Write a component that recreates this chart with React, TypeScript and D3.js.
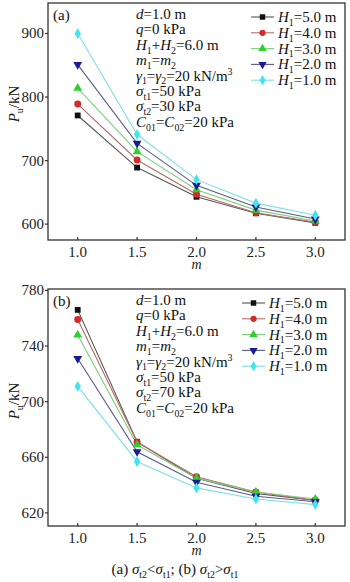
import React, { useEffect, useRef } from 'react';
import * as d3 from 'd3';

// x values (m)
const mValues = [1.0, 1.5, 2.0, 2.5, 3.0];
const h1Labels = ['5.0', '4.0', '3.0', '2.0', '1.0'];

// panel (a): sigma_t2 < sigma_t1
const a_H5 = [771, 689, 643, 617, 602];
const a_H4 = [789, 701, 647, 618, 603];
const a_H3 = [814, 714, 654, 622, 605];
const a_H2 = [851, 727, 661, 627, 608];
const a_H1 = [900, 741, 670, 633, 614];

// panel (b): sigma_t2 > sigma_t1
const b_H5 = [766, 671, 645, 634, 629];
const b_H4 = [759, 671, 646, 635, 629];
const b_H3 = [748, 669, 645, 635, 630];
const b_H2 = [731, 664, 642, 632, 628];
const b_H1 = [711, 657, 638, 630, 626];

const xTicks = [1.0, 1.5, 2.0, 2.5, 3.0];
const aTicks = [600, 700, 800, 900];
const bTicks = [620, 660, 700, 740, 780];

const markerColors = ['#111111', '#d42a2a', '#2fd02f', '#1a1a9a', '#3fe6ee'];
const lineColors = ['#555555', '#b86a6a', '#7ad07a', '#5a5a8a', '#7ee0e4'];
const symbols = [d3.symbolSquare, d3.symbolCircle, d3.symbolTriangle, d3.symbolTriangle, d3.symbolDiamond];

const FONT = '"Liberation Serif", "Times New Roman", serif';

// rich text segments: [text, style] style: i=italic, sub, sup
function richText(sel, x, y, segs, size = 15) {
  const t = sel.append('text')
    .attr('x', x).attr('y', y)
    .attr('font-family', FONT)
    .attr('font-size', size)
    .attr('fill', '#111');
  let shift = 0;
  segs.forEach(([txt, st]) => {
    const sp = t.append('tspan').text(txt);
    let target = 0;
    if (st && st.includes('sub')) target = size * 0.25;
    if (st && st.includes('sup')) target = -size * 0.36;
    if (target !== shift) { sp.attr('dy', target - shift); shift = target; }
    if (st && (st.includes('sub') || st.includes('sup'))) sp.attr('font-size', size * 0.66);
    if (st && st.includes('i')) sp.attr('font-style', 'italic');
  });
  return t;
}

function paramLines(st2) {
  return [
    [['d', 'i'], ['=1.0 m']],
    [['q', 'i'], ['=0 kPa']],
    [['H', 'i'], ['1', 'sub'], ['+'], ['H', 'i'], ['2', 'sub'], ['=6.0 m']],
    [['m', 'i'], ['1', 'sub'], ['='], ['m', 'i'], ['2', 'sub']],
    [['γ', 'i'], ['1', 'sub'], ['='], ['γ', 'i'], ['2', 'sub'], ['=20 kN/m'], ['3', 'sup']],
    [['σ', 'i'], ['t1', 'sub'], ['=50 kPa']],
    [['σ', 'i'], ['t2', 'sub'], ['=' + st2 + ' kPa']],
    [['C', 'i'], ['01', 'sub'], ['='], ['C', 'i'], ['02', 'sub'], ['=20 kPa']],
  ];
}

const panels = [
  { tag: '(a)', top: 3, bottom: 240, domain: [575, 948], ticks: aTicks, series: [a_H5, a_H4, a_H3, a_H2, a_H1], st2: '30', legX: 251, titleY: 104 },
  { tag: '(b)', top: 289, bottom: 526, domain: [610.6, 781], ticks: bTicks, series: [b_H5, b_H4, b_H3, b_H2, b_H1], st2: '70', legX: 242, titleY: 401 },
];

export default function App() {
  const ref = useRef(null);

  useEffect(() => {
    const svg = d3.select(ref.current);
    svg.selectAll('*').remove();

    const left = 48;
    const right = 345;
    const x = d3.scaleLinear().domain([0.75, 3.25]).range([left, right]);

    panels.forEach((p) => {
      const y = d3.scaleLinear().domain(p.domain).range([p.bottom, p.top]);
      const g = svg.append('g');

      // frame
      g.append('rect')
        .attr('x', left).attr('y', p.top)
        .attr('width', right - left).attr('height', p.bottom - p.top)
        .attr('fill', 'none').attr('stroke', '#333').attr('stroke-width', 1.3);

      // x ticks (inward)
      xTicks.forEach((v) => {
        g.append('line')
          .attr('x1', x(v)).attr('x2', x(v))
          .attr('y1', p.bottom).attr('y2', p.bottom - 3)
          .attr('stroke', '#333').attr('stroke-width', 1.2);
        g.append('text')
          .attr('x', x(v)).attr('y', p.bottom + 17)
          .attr('text-anchor', 'middle')
          .attr('font-family', FONT).attr('font-size', 15).attr('fill', '#222')
          .text(d3.format('.1f')(v));
      });
      g.append('text')
        .attr('x', x(2.0)).attr('y', p.bottom + 29)
        .attr('text-anchor', 'middle')
        .attr('font-family', FONT).attr('font-size', 14).attr('font-style', 'italic').attr('fill', '#222')
        .text('m');

      // y ticks
      p.ticks.forEach((v) => {
        g.append('line')
          .attr('x1', left - 3).attr('x2', left)
          .attr('y1', y(v)).attr('y2', y(v))
          .attr('stroke', '#333').attr('stroke-width', 1.2);
        g.append('text')
          .attr('x', left - 4).attr('y', y(v) + 5)
          .attr('text-anchor', 'end')
          .attr('font-family', FONT).attr('font-size', 15).attr('fill', '#222')
          .text(v);
      });

      // y title
      const yt = g.append('g').attr('transform', `translate(19,${p.titleY}) rotate(-90)`);
      richText(yt, 0, 0, [['P', 'i'], ['u', 'sub'], ['/kN']], 15).attr('text-anchor', 'middle');

      // panel tag
      g.append('text')
        .attr('x', 53).attr('y', p.top + 17)
        .attr('font-family', FONT).attr('font-size', 15).attr('fill', '#111')
        .text(p.tag);

      // series
      const line = d3.line().x((d, i) => x(mValues[i])).y((d) => y(d));
      p.series.forEach((s, k) => {
        g.append('path')
          .attr('d', line(s))
          .attr('fill', 'none')
          .attr('stroke', lineColors[k])
          .attr('stroke-width', 1.1);
      });
      p.series.forEach((s, k) => {
        const sym = d3.symbol().type(symbols[k]).size(k === 1 ? 38 : 34);
        s.forEach((v, i) => {
          g.append('path')
            .attr('d', sym())
            .attr('transform', `translate(${x(mValues[i])},${y(v)})${k === 3 ? ' rotate(180)' : ''}`)
            .attr('fill', markerColors[k]);
        });
      });

      // parameter text
      paramLines(p.st2).forEach((segs, i) => {
        richText(g, 136, p.top + 16 + i * 15.4, segs, 15);
      });

      // legend
      h1Labels.forEach((lab, k) => {
        const ly = p.top + 14 + k * 15.8;
        g.append('line')
          .attr('x1', p.legX).attr('x2', p.legX + 23)
          .attr('y1', ly).attr('y2', ly)
          .attr('stroke', lineColors[k]).attr('stroke-width', 1.1);
        g.append('path')
          .attr('d', d3.symbol().type(symbols[k]).size(30)())
          .attr('transform', `translate(${p.legX + 11.5},${ly})${k === 3 ? ' rotate(180)' : ''}`)
          .attr('fill', markerColors[k]);
        richText(g, p.legX + 27, ly + 5, [['H', 'i'], ['1', 'sub'], ['=' + lab + ' m']], 15);
      });
    });

    // caption
    richText(svg, 175, 574, [
      ['(a) '], ['σ', 'i'], ['t2', 'sub'], ['<'], ['σ', 'i'], ['t1', 'sub'],
      ['; (b) '], ['σ', 'i'], ['t2', 'sub'], ['>'], ['σ', 'i'], ['t1', 'sub'],
    ], 15).attr('text-anchor', 'middle');
  }, []);

  return (
    <svg
      ref={ref}
      width={350}
      height={582}
      style={{ position: 'absolute', left: 0, top: 0, background: '#fff' }}
    />
  );
}
